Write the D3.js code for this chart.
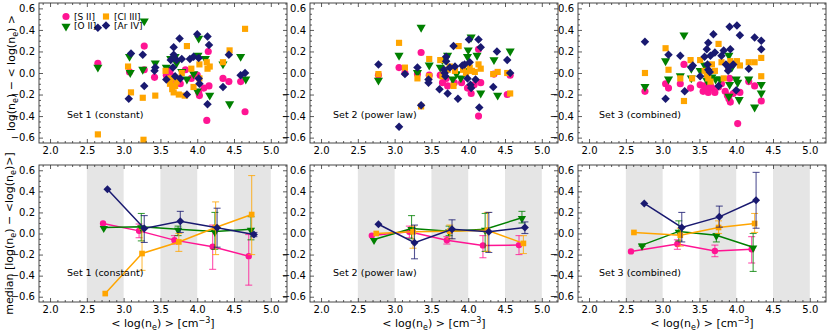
<!DOCTYPE html>
<html><head><meta charset="utf-8">
<script src="https://cdn.jsdelivr.net/npm/d3@7"></script>
<style>
body{margin:0;background:#fff}
svg{display:block;font-family:"DejaVu Sans",sans-serif}
</style>
</head><body><svg id="c" width="830" height="332"></svg>
<script>
// ---------------- data ----------------
const seriesNames = ["[S II]", "[O II]", "[Cl III]", "[Ar IV]"];
const seriesColors = ["#ff1493", "#008000", "#ffa500", "#191970"];
const seriesShapes = ["circle", "triangle", "square", "diamond"];
const setLabels = ["Set 1 (constant)", "Set 2 (power law)", "Set 3 (combined)"];
const xTicks = [2.0, 2.5, 3.0, 3.5, 4.0, 4.5, 5.0];
const yTicks = [-0.6, -0.4, -0.2, 0.0, 0.2, 0.4, 0.6];
const shadedBins = [[2.5, 3.0], [3.5, 4.0], [4.5, 5.0]];

// scatter: [<log ne>, log ne - <log ne>]
const set1_SII = [[2.65,0.09],[3.08,0.01],[3.28,0.25],[3.28,0.03],[3.42,-0.04],[3.58,-0.02],[3.63,0.02],[3.67,-0.03],[3.72,-0.08],[3.77,-0.10],[3.84,0.03],[3.92,-0.05],[4.0,-0.02],[4.02,-0.18],[4.03,-0.21],[4.09,-0.14],[4.13,-0.44],[4.15,0.20],[4.16,-0.12],[4.35,-0.05],[4.43,-0.08],[4.59,-0.08],[4.65,-0.36]];
const set1_OII = [[2.65,0.06],[3.08,0.16],[3.09,0.01],[3.26,0.04],[3.28,0.49],[3.43,0.10],[3.58,0.06],[3.64,0.14],[3.70,0.16],[3.72,0.10],[3.79,0.02],[3.86,-0.05],[3.95,0.0],[4.0,-0.16],[4.01,0.17],[4.02,0.33],[4.11,0.14],[4.17,-0.20],[4.35,0.09],[4.44,-0.28],[4.59,0.16],[4.66,-0.05]];
const set1_ClIII = [[2.65,-0.57],[3.06,0.06],[3.10,-0.18],[3.26,-0.23],[3.27,-0.62],[3.43,-0.21],[3.57,0.02],[3.61,-0.06],[3.63,-0.10],[3.64,-0.05],[3.66,-0.15],[3.68,-0.18],[3.70,-0.12],[3.72,-0.08],[3.75,-0.20],[3.79,0.0],[3.83,-0.21],[3.86,0.25],[3.92,0.04],[3.95,-0.13],[4.03,0.08],[4.03,-0.05],[4.13,0.10],[4.14,0.04],[4.17,0.06],[4.35,0.10],[4.44,0.21],[4.65,0.41]];
const set1_ArIV = [[2.65,0.42],[3.07,-0.24],[3.10,0.18],[3.26,0.17],[3.28,-0.12],[3.42,0.02],[3.43,0.05],[3.58,-0.06],[3.64,0.12],[3.67,0.05],[3.68,0.17],[3.68,0.24],[3.70,-0.03],[3.72,0.12],[3.76,0.32],[3.77,-0.05],[3.79,0.13],[3.86,-0.20],[3.90,0.13],[3.95,0.15],[4.00,0.36],[4.02,0.14],[4.02,-0.05],[4.03,-0.10],[4.14,0.34],[4.16,0.26],[4.14,-0.29],[4.35,-0.13],[4.43,0.17],[4.59,-0.02],[4.65,0.0]];

const set2_SII = [[2.78,-0.02],[3.06,0.05],[3.14,0.0],[3.31,-0.01],[3.36,0.19],[3.47,-0.02],[3.62,-0.02],[3.65,-0.09],[3.70,-0.05],[3.72,-0.12],[3.81,-0.09],[3.91,-0.09],[3.99,-0.14],[4.04,-0.19],[4.08,-0.11],[4.14,0.22],[4.14,-0.40],[4.17,-0.09],[4.35,-0.01],[4.53,-0.20],[4.57,-0.02]];
const set2_OII = [[2.78,-0.06],[3.06,0.17],[3.31,0.01],[3.36,0.43],[3.47,0.08],[3.62,0.06],[3.65,0.13],[3.68,0.03],[3.72,0.17],[3.79,-0.05],[3.84,0.0],[3.90,-0.04],[3.97,0.03],[3.99,0.16],[4.00,0.22],[4.04,0.34],[4.12,0.17],[4.17,-0.18],[4.35,0.13],[4.40,-0.20],[4.57,0.21]];
const set2_ClIII = [[2.78,-0.01],[3.06,0.28],[3.14,0.05],[3.31,-0.05],[3.36,-0.31],[3.47,0.13],[3.47,-0.03],[3.62,0.12],[3.65,-0.03],[3.68,-0.01],[3.72,0.03],[3.75,0.06],[3.80,-0.12],[3.82,0.02],[3.87,0.25],[3.93,0.03],[3.97,0.0],[4.02,0.05],[4.05,0.02],[4.09,0.01],[4.14,0.08],[4.17,0.04],[4.34,-0.01],[4.40,0.01],[4.53,0.0],[4.57,-0.19]];
const set2_ArIV = [[2.78,0.08],[3.06,-0.50],[3.14,-0.01],[3.31,0.05],[3.36,-0.30],[3.46,-0.06],[3.46,-0.09],[3.61,-0.15],[3.67,0.03],[3.68,0.0],[3.69,-0.03],[3.70,0.15],[3.70,0.11],[3.72,-0.19],[3.75,0.05],[3.80,0.25],[3.82,0.06],[3.86,-0.24],[3.92,0.07],[3.95,0.08],[3.99,-0.05],[4.01,0.31],[4.02,0.10],[4.03,-0.11],[4.04,-0.14],[4.10,-0.06],[4.14,0.31],[4.17,0.24],[4.15,-0.32],[4.34,-0.13],[4.39,0.20],[4.53,0.12],[4.57,0.0]];

const set3_SII = [[2.76,-0.17],[3.04,-0.10],[3.08,-0.14],[3.24,-0.10],[3.29,0.08],[3.38,-0.14],[3.51,-0.11],[3.55,-0.17],[3.57,-0.12],[3.60,-0.14],[3.62,-0.18],[3.65,-0.12],[3.67,-0.14],[3.71,-0.18],[3.76,-0.13],[3.80,-0.10],[3.85,-0.17],[3.88,-0.21],[3.90,-0.24],[3.91,-0.05],[3.92,-0.27],[3.96,-0.19],[4.02,-0.47],[4.05,-0.18],[4.17,-0.08],[4.25,-0.12],[4.34,-0.26]];
const set3_OII = [[2.76,-0.12],[3.04,0.12],[3.08,-0.05],[3.24,-0.02],[3.29,0.36],[3.39,-0.04],[3.39,0.05],[3.51,0.03],[3.57,0.08],[3.60,-0.06],[3.67,-0.03],[3.72,-0.05],[3.78,-0.05],[3.90,0.17],[3.90,-0.21],[3.91,-0.10],[3.94,0.06],[4.00,-0.05],[4.02,-0.08],[4.04,-0.24],[4.17,-0.05],[4.25,-0.31],[4.34,-0.10],[4.34,-0.18]];
const set3_ClIII = [[2.76,0.0],[3.04,0.23],[3.08,0.03],[3.24,-0.05],[3.29,-0.26],[3.38,0.12],[3.40,-0.05],[3.51,0.12],[3.57,0.02],[3.60,-0.02],[3.62,-0.05],[3.65,-0.08],[3.67,0.08],[3.71,0.02],[3.76,0.27],[3.80,0.10],[3.83,-0.05],[3.89,0.06],[3.92,0.11],[4.01,0.11],[4.05,0.07],[4.17,0.10],[4.25,0.10],[4.34,0.14],[4.34,-0.03]];
const set3_ArIV = [[2.76,0.29],[3.04,-0.24],[3.08,0.17],[3.24,0.16],[3.30,-0.17],[3.39,0.05],[3.41,0.07],[3.51,-0.03],[3.57,0.15],[3.60,0.22],[3.61,0.08],[3.62,0.28],[3.62,0.03],[3.64,0.01],[3.65,0.16],[3.69,0.36],[3.71,0.19],[3.76,-0.12],[3.80,0.16],[3.83,0.21],[3.86,0.08],[3.89,0.02],[3.90,0.05],[3.91,0.43],[3.92,0.22],[3.96,0.08],[4.00,-0.16],[4.01,0.44],[4.05,0.35],[4.17,0.04],[4.25,0.33],[4.34,0.30],[4.34,0.22]];

// binned medians: x, median, lower error end, upper error end
const med1_SII_x = [2.72,3.21,3.69,4.21,4.70], med1_SII_y = [0.095,0.025,-0.063,-0.126,-0.215], med1_SII_lo = [0.095,-0.04,-0.10,-0.34,-0.49], med1_SII_hi = [0.095,0.09,-0.02,0.08,-0.01];
const med1_OII_x = [2.73,3.24,3.74,4.24,4.73], med1_OII_y = [0.057,0.063,0.04,0.02,0.04], med1_OII_lo = [0.057,-0.07,-0.02,-0.15,-0.06], med1_OII_hi = [0.057,0.19,0.07,0.20,0.16];
const med1_ClIII_x = [2.75,3.25,3.75,4.25,4.74], med1_ClIII_y = [-0.57,-0.19,-0.08,0.057,0.18], med1_ClIII_lo = [-0.57,-0.35,-0.17,-0.20,-0.20], med1_ClIII_hi = [-0.57,0.04,0.0,0.30,0.55];
const med1_ArIV_x = [2.78,3.28,3.77,4.27,4.77], med1_ArIV_y = [0.42,0.047,0.117,0.054,-0.01], med1_ArIV_lo = [0.42,-0.085,0.01,-0.13,-0.03], med1_ArIV_hi = [0.42,0.17,0.21,0.24,0.01];

const med2_SII_x = [2.69,3.20,3.71,4.20,4.69], med2_SII_y = [-0.02,0.016,-0.063,-0.113,-0.11], med2_SII_lo = [-0.02,-0.04,-0.10,-0.23,-0.20], med2_SII_hi = [-0.02,0.07,-0.03,-0.02,-0.02];
const med2_OII_x = [2.72,3.23,3.74,4.23,4.73], med2_OII_y = [-0.057,0.047,0.022,0.04,0.15], med2_OII_lo = [-0.057,-0.05,-0.02,-0.17,0.10], med2_OII_hi = [-0.057,0.17,0.07,0.19,0.21];
const med2_ClIII_x = [2.75,3.25,3.75,4.26,4.75], med2_ClIII_y = [0.0,0.016,0.022,0.03,-0.094], med2_ClIII_lo = [0.0,-0.14,-0.05,-0.17,-0.19], med2_ClIII_hi = [0.0,0.07,0.08,0.20,-0.02];
const med2_ArIV_x = [2.78,3.27,3.78,4.28,4.77], med2_ArIV_y = [0.088,-0.088,0.04,0.016,0.057], med2_ArIV_lo = [0.088,-0.24,-0.05,-0.18,0.0], med2_ArIV_hi = [0.088,0.08,0.13,0.20,0.11];

const med3_SII_x = [2.57,3.20,3.71,4.21], med3_SII_y = [-0.17,-0.10,-0.165,-0.15], med3_SII_lo = [-0.17,-0.15,-0.22,-0.28], med3_SII_hi = [-0.17,-0.06,-0.11,-0.03];
const med3_OII_x = [2.72,3.22,3.73,4.23], med3_OII_y = [-0.11,0.02,-0.016,-0.13], med3_OII_lo = [-0.12,-0.07,-0.08,-0.36], med3_OII_hi = [-0.10,0.12,0.0,0.0];
const med3_ClIII_x = [2.61,3.24,3.76,4.25], med3_ClIII_y = [0.01,-0.016,0.057,0.095], med3_ClIII_lo = [0.01,-0.12,0.0,0.01], med3_ClIII_hi = [0.01,0.05,0.12,0.19];
const med3_ArIV_x = [2.75,3.26,3.77,4.27], med3_ArIV_y = [0.285,0.057,0.158,0.316], med3_ArIV_lo = [0.285,-0.08,0.06,0.05], med3_ArIV_hi = [0.285,0.20,0.26,0.58];

// ---------------- assemble ----------------
const scatterSets = [
  [set1_SII, set1_OII, set1_ClIII, set1_ArIV],
  [set2_SII, set2_OII, set2_ClIII, set2_ArIV],
  [set3_SII, set3_OII, set3_ClIII, set3_ArIV]
];
const medianSets = [
  [[med1_SII_x,med1_SII_y,med1_SII_lo,med1_SII_hi],[med1_OII_x,med1_OII_y,med1_OII_lo,med1_OII_hi],[med1_ClIII_x,med1_ClIII_y,med1_ClIII_lo,med1_ClIII_hi],[med1_ArIV_x,med1_ArIV_y,med1_ArIV_lo,med1_ArIV_hi]],
  [[med2_SII_x,med2_SII_y,med2_SII_lo,med2_SII_hi],[med2_OII_x,med2_OII_y,med2_OII_lo,med2_OII_hi],[med2_ClIII_x,med2_ClIII_y,med2_ClIII_lo,med2_ClIII_hi],[med2_ArIV_x,med2_ArIV_y,med2_ArIV_lo,med2_ArIV_hi]],
  [[med3_SII_x,med3_SII_y,med3_SII_lo,med3_SII_hi],[med3_OII_x,med3_OII_y,med3_OII_lo,med3_OII_hi],[med3_ClIII_x,med3_ClIII_y,med3_ClIII_lo,med3_ClIII_hi],[med3_ArIV_x,med3_ArIV_y,med3_ArIV_lo,med3_ArIV_hi]]
];

// ---------------- layout ----------------
const svg = d3.select("#c");
const panelLeft = [39, 310, 578], panelW = 248;
const rowTop = [3, 165], rowBottom = [143, 302];
const xDomain = [1.85, 5.22], yDomain = [-0.65, 0.65];
const setLabelPos = [[28, 118, 276], [23, 118, 276], [21, 118, 276]];
const fmt = d3.format(".1f");
const tickFont = 10;

function markerPath(shape, s) {
  if (shape === "diamond") {
    const r = Math.sqrt(s / 2);
    return `M0,${-r}L${r},0L0,${r}L${-r},0Z`;
  }
  const sym = {circle: d3.symbolCircle, triangle: d3.symbolTriangle, square: d3.symbolSquare}[shape];
  return d3.symbol(sym, s)();
}
function markerTransform(shape, px, py) {
  return `translate(${px},${py})` + (shape === "triangle" ? " rotate(180) translate(0,-0.8)" : "");
}

function frameAxes(g, x, y, y0, y1) {
  const xm = d3.range(19, 53).map(v => v / 10)
    .filter(v => Math.abs(v * 2 - Math.round(v * 2)) > 1e-6 && v > xDomain[0] && v < xDomain[1]);
  const yMinor = d3.range(-13, 14).map(v => v / 20)
    .filter(v => Math.abs(v * 5 - Math.round(v * 5)) > 1e-6 && v > yDomain[0] && v < yDomain[1]);
  const axes = [
    [d3.axisBottom(x).tickValues(xTicks).tickFormat(fmt).tickSize(-4).tickPadding(4), `translate(0,${y0})`],
    [d3.axisBottom(x).tickValues(xm).tickFormat("").tickSize(-2), `translate(0,${y0})`],
    [d3.axisTop(x).tickValues(xTicks).tickFormat("").tickSize(-4), `translate(0,${y1})`],
    [d3.axisTop(x).tickValues(xm).tickFormat("").tickSize(-2), `translate(0,${y1})`],
    [d3.axisLeft(y).tickValues(yTicks).tickFormat(fmt).tickSize(-4).tickPadding(4), `translate(${x.range()[0]},0)`],
    [d3.axisLeft(y).tickValues(yMinor).tickFormat("").tickSize(-2), `translate(${x.range()[0]},0)`],
    [d3.axisRight(y).tickValues(yTicks).tickFormat("").tickSize(-4), `translate(${x.range()[1]},0)`],
    [d3.axisRight(y).tickValues(yMinor).tickFormat("").tickSize(-2), `translate(${x.range()[1]},0)`]
  ];
  axes.forEach(([ax, tr]) => {
    const a = g.append("g").attr("transform", tr).call(ax);
    a.select(".domain").remove();
    a.selectAll("line").attr("stroke", "#333").attr("stroke-width", 0.8);
    a.selectAll("text").attr("font-size", tickFont).attr("fill", "#000").attr("font-family", "DejaVu Sans, sans-serif");
  });
  g.append("rect").attr("x", x.range()[0]).attr("y", y1).attr("width", x.range()[1] - x.range()[0]).attr("height", y0 - y1)
    .attr("fill", "none").attr("stroke", "#333").attr("stroke-width", 0.9);
}

const scatterSize = {circle: 40, triangle: 36, square: 38, diamond: 36};
const medianSize = {circle: 32, triangle: 30, square: 32, diamond: 32};

for (let p = 0; p < 3; p++) {
  const x = d3.scaleLinear().domain(xDomain).range([panelLeft[p], panelLeft[p] + panelW]);
  // ---- top row: scatter ----
  const yT = d3.scaleLinear().domain(yDomain).range([rowBottom[0], rowTop[0]]);
  const gT = svg.append("g");
  scatterSets[p].forEach((pts, s) => {
    const sh = seriesShapes[s];
    gT.append("g").selectAll("path").data(pts).join("path")
      .attr("transform", d => markerTransform(sh, x(d[0]), yT(d[1])))
      .attr("d", markerPath(sh, scatterSize[sh]))
      .attr("fill", seriesColors[s]);
  });
  frameAxes(gT, x, yT, rowBottom[0], rowTop[0]);
  gT.append("text").attr("x", panelLeft[p] + setLabelPos[p][0]).attr("y", setLabelPos[p][1])
    .attr("font-size", 9.5).text(setLabels[p]);

  // ---- bottom row: medians ----
  const yB = d3.scaleLinear().domain(yDomain).range([rowBottom[1], rowTop[1]]);
  const gB = svg.append("g");
  gB.selectAll("rect.band").data(shadedBins).join("rect").attr("class", "band")
    .attr("x", d => x(d[0])).attr("width", d => x(d[1]) - x(d[0]))
    .attr("y", rowTop[1]).attr("height", rowBottom[1] - rowTop[1]).attr("fill", "#e5e5e5");
  medianSets[p].forEach((m, s) => {
    const [mx, my, mlo, mhi] = m;
    const pts = mx.map((v, i) => ({x: v, y: my[i], lo: mlo[i], hi: mhi[i]}));
    const col = seriesColors[s];
    const sh = seriesShapes[s];
    const eb = gB.append("g").attr("stroke", col).attr("stroke-opacity", 0.75).attr("stroke-width", 1.1);
    pts.filter(d => d.hi - d.lo > 0.005).forEach(d => {
      eb.append("line").attr("x1", x(d.x)).attr("x2", x(d.x)).attr("y1", yB(d.lo)).attr("y2", yB(d.hi));
      eb.append("line").attr("x1", x(d.x) - 3.5).attr("x2", x(d.x) + 3.5).attr("y1", yB(d.lo)).attr("y2", yB(d.lo));
      eb.append("line").attr("x1", x(d.x) - 3.5).attr("x2", x(d.x) + 3.5).attr("y1", yB(d.hi)).attr("y2", yB(d.hi));
    });
    gB.append("path").datum(pts).attr("fill", "none").attr("stroke", col).attr("stroke-width", 1.5)
      .attr("d", d3.line().x(d => x(d.x)).y(d => yB(d.y)));
    gB.append("g").selectAll("path").data(pts).join("path")
      .attr("transform", d => markerTransform(sh, x(d.x), yB(d.y)))
      .attr("d", markerPath(sh, medianSize[sh]))
      .attr("fill", col);
  });
  frameAxes(gB, x, yB, rowBottom[1], rowTop[1]);
  gB.append("text").attr("x", panelLeft[p] + setLabelPos[p][0]).attr("y", setLabelPos[p][2])
    .attr("font-size", 9.5).text(setLabels[p]);

  // x title
  const xt = svg.append("text").attr("x", panelLeft[p] + panelW / 2).attr("y", 327)
    .attr("text-anchor", "middle").attr("font-size", 11);
  xt.append("tspan").text("< log(n");
  xt.append("tspan").attr("font-size", 8).attr("dy", 2.5).text("e");
  xt.append("tspan").attr("dy", -2.5).text(") >  [cm");
  xt.append("tspan").attr("font-size", 8).attr("dy", -4.5).text("−3");
  xt.append("tspan").attr("dy", 4.5).text("]");
}

// y titles
const yl1 = svg.append("text").attr("transform", `translate(15,${(rowTop[0] + rowBottom[0]) / 2}) rotate(-90)`)
  .attr("text-anchor", "middle").attr("font-size", 11);
yl1.append("tspan").text("log(n");
yl1.append("tspan").attr("font-size", 8).attr("dy", 2.5).text("e");
yl1.append("tspan").attr("dy", -2.5).text(")  −  < log(n");
yl1.append("tspan").attr("font-size", 8).attr("dy", 2.5).text("e");
yl1.append("tspan").attr("dy", -2.5).text(") >");

const yl2 = svg.append("text").attr("transform", `translate(13,${(rowTop[1] + rowBottom[1]) / 2}) rotate(-90)`)
  .attr("text-anchor", "middle").attr("font-size", 11);
yl2.append("tspan").text("median [log(n");
yl2.append("tspan").attr("font-size", 8).attr("dy", 2.5).text("e");
yl2.append("tspan").attr("dy", -2.5).text(")  −  <log(n");
yl2.append("tspan").attr("font-size", 8).attr("dy", 2.5).text("e");
yl2.append("tspan").attr("dy", -2.5).text(")>]");

// legend (top-left panel)
const legPos = [[66, 16.5], [66, 25.5], [106, 16.5], [106, 25.5]];
const leg = svg.append("g");
seriesNames.forEach((n, s) => {
  const sh = seriesShapes[s];
  leg.append("path").attr("transform", markerTransform(sh, legPos[s][0], legPos[s][1]))
    .attr("d", markerPath(sh, scatterSize[sh])).attr("fill", seriesColors[s]);
  leg.append("text").attr("x", legPos[s][0] + 8).attr("y", legPos[s][1] + 3.3).attr("font-size", 9).text(n);
});
</script>
</body></html>
